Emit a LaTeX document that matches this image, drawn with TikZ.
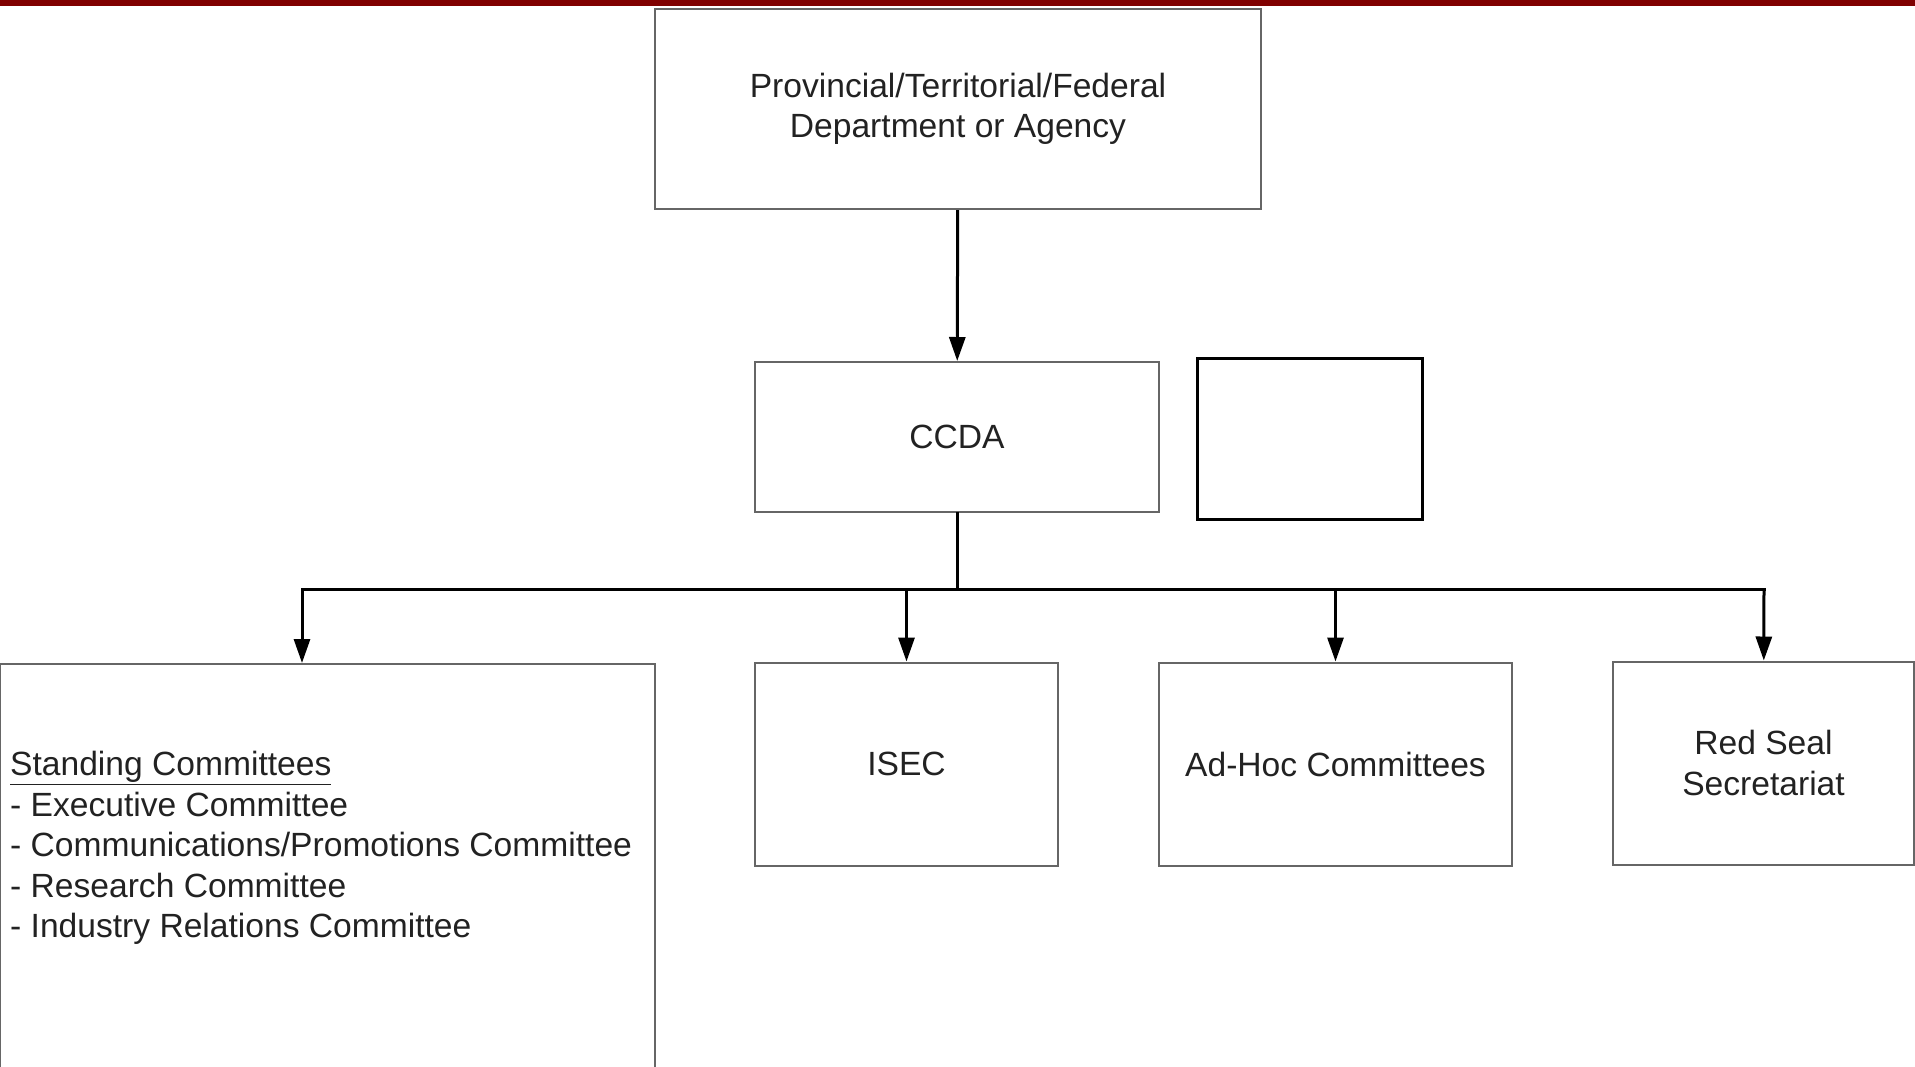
\documentclass[tikz,border=0pt]{standalone}
\usepackage{fontspec}
\setmainfont{Liberation Sans}
\usetikzlibrary{arrows.meta,positioning,calc}
\definecolor{barred}{HTML}{800000}
\definecolor{boxgray}{HTML}{666666}
\definecolor{textgray}{HTML}{222222}
\tikzset{
  orgbox/.style={draw=boxgray, line width=2pt, rectangle, inner sep=0pt,
    text=textgray, align=center, font=\fontsize{33.6}{40.5}\selectfont},
  orglist/.style={inner sep=0pt, align=left, text=textgray,
    font=\fontsize{33.6}{40.5}\selectfont},
  link/.style={line width=3pt, -{Triangle[width=16pt,length=24pt]}},
  bus/.style={line width=3pt, line cap=rect},
}
\begin{document}
\begin{tikzpicture}[x=1pt,y=-1pt]
  \useasboundingbox (0,0) rectangle (1915,1066);
  \fill [barred] (0,0) rectangle (1915,5.5);
  \node (dept) at (958,109) [orgbox, minimum width=606pt, minimum height=200pt] {Provincial/Territorial/Federal\\Department or Agency};
  \node (ccda) at (957,437) [orgbox, minimum width=404pt, minimum height=150pt] {CCDA};
  \node (blank) at (1309.5,438.5) [draw, line width=3pt, minimum width=225pt, minimum height=161pt] {};
  \node (standing) at (327.5,872) [orgbox, minimum width=655pt, minimum height=416pt] {};
  \node (standlist) at (10,848) [orglist, anchor=west] {\underline{Standing Committees}\\- Executive Committee\\- Communications/Promotions Committee\\- Research Committee\\- Industry Relations Committee};
  \node (isec) at (906.5,764) [orgbox, minimum width=303pt, minimum height=203pt] {ISEC};
  \node (adhoc) at (1335.5,764) [orgbox, minimum width=353pt, minimum height=203pt] {Ad-Hoc Committees};
  \node (redseal) at (1763.5,763) [orgbox, minimum width=301pt, minimum height=203pt] {Red Seal\\Secretariat};
  % connectors
  \coordinate (busleft) at (302,589);
  \coordinate (busright) at (1764,589);
  \draw [link] (dept) -- (ccda);
  \draw [bus] (ccda) -- (ccda |- busleft);
  \draw [bus] (busleft) -- (busright);
  \draw [link] (busleft) -- (busleft |- standing.north);
  \draw [link] (isec |- busleft) -- (isec);
  \draw [link] (adhoc |- busleft) -- (adhoc);
  \draw [link] (busright) -- (redseal);
\end{tikzpicture}
\end{document}
